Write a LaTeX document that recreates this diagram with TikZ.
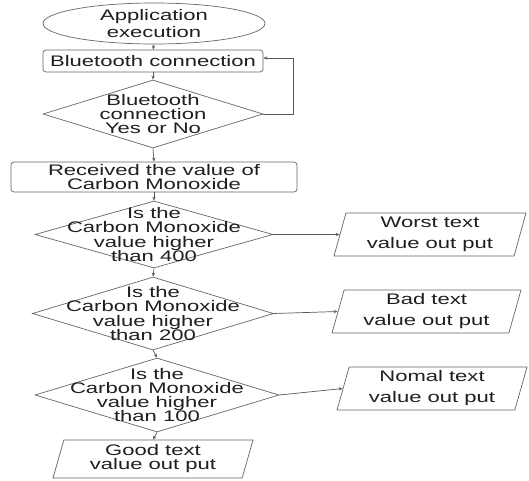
\documentclass[tikz,border=0pt]{standalone}
\usepackage{fontspec}
\setmainfont{Liberation Sans}[FakeStretch=1.44]
\usetikzlibrary{shapes.geometric,arrows.meta}

\begin{document}
\begin{tikzpicture}[x=1pt,y=-1pt,
  every node/.style={font=\fontsize{15.3}{15.3}\selectfont, text=black!88, align=center},
  line/.style={draw=black!65, line width=0.7pt},
  arr/.style={line, -{Stealth[length=4pt,width=3.2pt]}},
  shapeline/.style={draw=black!60, line width=0.7pt, inner sep=0pt},
  startnode/.style={ellipse, shapeline},
  proc/.style={rectangle, rounded corners=3pt, shapeline},
  decide/.style={diamond, shapeline},
  io/.style={trapezium, trapezium left angle=71, trapezium right angle=109,
             trapezium stretches body, shapeline},
]
\useasboundingbox (0,0) rectangle (529,480);
\fill[white] (0,0) rectangle (529,480);

% main column
\node[startnode, minimum width=222pt, minimum height=41pt,
      font=\fontsize{15.3}{16.5}\selectfont] (start) at (154,23.5) {Application\\execution};
\node[proc, minimum width=220pt, minimum height=22pt] (bt) at (153,61) {Bluetooth connection};
\node[decide, minimum width=220pt, minimum height=68pt,
      label={[font=\fontsize{15.3}{14}\selectfont]center:{Bluetooth\\connection\\Yes or No}}] (d1) at (153,114) {};
\node[proc, minimum width=286pt, minimum height=30pt,
      font=\fontsize{15.3}{14}\selectfont] (recv) at (154,177) {Received the value of\\Carbon Monoxide};
\node[decide, minimum width=238pt, minimum height=67pt,
      label={[font=\fontsize{15.3}{14.3}\selectfont]center:{Is the\\Carbon Monoxide\\value higher\\than 400}}] (d2) at (154,234.5) {};
\node[decide, minimum width=241pt, minimum height=73pt,
      label={[font=\fontsize{15.3}{14.3}\selectfont]center:{Is the\\Carbon Monoxide\\value higher\\than 200}}] (d3) at (153,313.5) {};
\node[decide, minimum width=244pt, minimum height=74pt,
      label={[font=\fontsize{15.3}{14.3}\selectfont]center:{Is the\\Carbon Monoxide\\value higher\\than 100}}] (d4) at (157,395) {};
\node[io, minimum width=200pt, minimum height=38pt, trapezium left angle=69, trapezium right angle=111,
      font=\fontsize{15.3}{14}\selectfont] (good) at (153,459) {Good text\\value out put};

% output column
\node[io, minimum width=192pt, minimum height=43pt,
      font=\fontsize{15.3}{21}\selectfont] (worst) at (430,234.5) {Worst text\\value out put};
\node[io, minimum width=189pt, minimum height=43pt,
      font=\fontsize{15.3}{21}\selectfont] (bad) at (426.5,311.5) {Bad text\\value out put};
\node[io, minimum width=190pt, minimum height=43pt,
      font=\fontsize{15.3}{21}\selectfont] (nomal) at (432,388.5) {Nomal text\\value out put};

% connectors
\coordinate (loop) at (293,114);
\draw[arr] (start.south) -- (bt.north);
\draw[arr] (bt.south) -- (d1.north);
\draw[arr] (d1.east) -- (loop) |- ([yshift=3pt]bt.east);
\draw[arr] (d1.south) -- (recv.north);
\draw[arr] (recv.south) -- (d2.north);
\draw[arr] (d2.south) -- (d3.north);
\draw[arr] (d3.south) -- (d4.north);
\draw[arr] (d4.south) -- (good.north);
\draw[arr] (d2.east) -- (worst.left side);
\draw[arr] (d3.east) -- (bad.left side);
\draw[arr] (d4.east) -- (nomal.left side);
\end{tikzpicture}
\end{document}
